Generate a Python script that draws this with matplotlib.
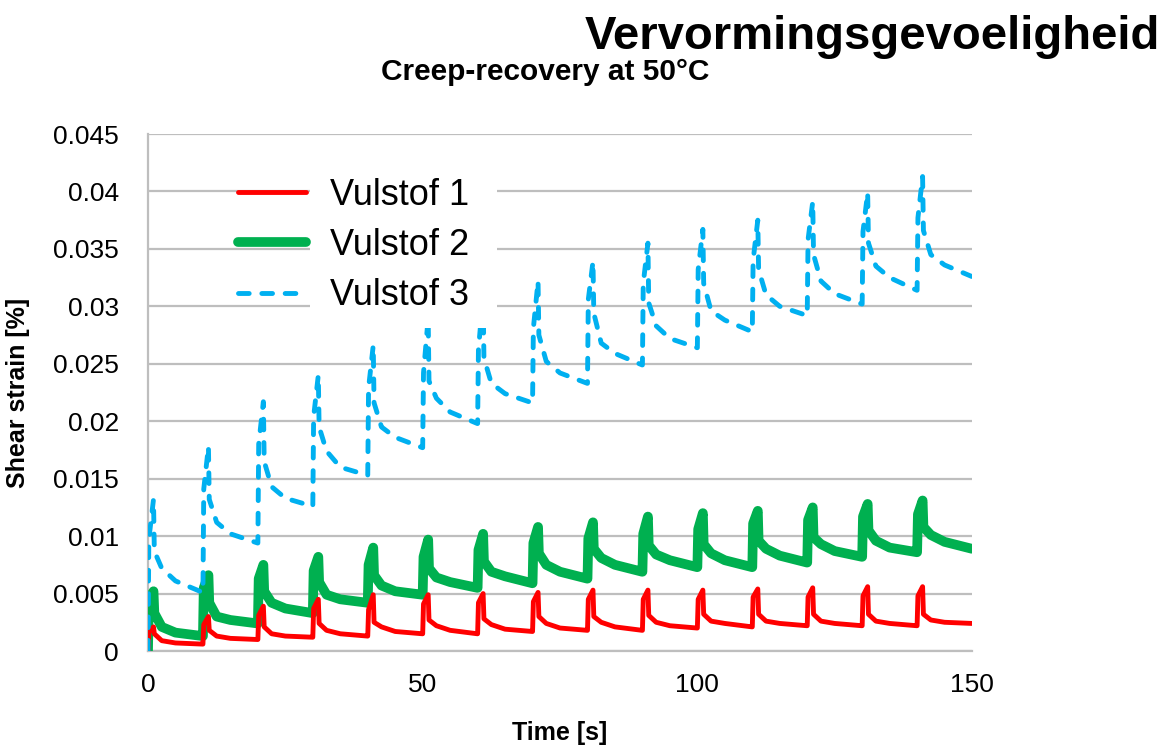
import matplotlib
matplotlib.use("Agg")
import matplotlib.pyplot as plt
from matplotlib.patches import Rectangle
import numpy as np

plt.rcParams['font.family'] = ['Liberation Sans', 'DejaVu Sans']

# cycle start times (s): 1 s creep + 9 s recovery, 15 cycles
cycle_start = [0, 10, 20, 30, 40, 50, 60, 70, 80, 90, 100, 110, 120, 130, 140]

# Vulstof 1 (red)
v1_shoulder = [0.0016, 0.0023, 0.0031, 0.0037, 0.0036, 0.0041, 0.0042, 0.0043, 0.0045, 0.0045, 0.0045, 0.0047, 0.0047, 0.0048, 0.0048]
v1_peak = [0.0021, 0.0030, 0.0039, 0.0045, 0.0049, 0.0049, 0.0050, 0.0051, 0.0053, 0.0053, 0.0053, 0.0054, 0.0055, 0.0056, 0.0056]
v1_post = [0.0015, 0.0018, 0.0021, 0.0024, 0.0025, 0.0027, 0.0028, 0.0030, 0.0030, 0.0031, 0.0032, 0.0032, 0.0032, 0.0032, 0.0032]
v1_d1 = [0.0009, 0.0013, 0.0015, 0.0018, 0.0021, 0.0022, 0.0023, 0.0024, 0.0025, 0.0025, 0.0026, 0.0026, 0.0026, 0.0026, 0.0027]
v1_d2 = [0.0007, 0.0011, 0.0013, 0.0015, 0.0017, 0.0018, 0.0019, 0.0020, 0.0021, 0.0022, 0.0024, 0.0024, 0.0024, 0.0024, 0.0025]
v1_end = [0.0006, 0.0010, 0.0012, 0.0013, 0.0015, 0.0015, 0.0017, 0.0018, 0.0018, 0.0020, 0.0021, 0.0022, 0.0022, 0.0022, 0.0024]

# Vulstof 2 (green)
v2_shoulder = [0.0045, 0.0055, 0.0063, 0.0070, 0.0075, 0.0082, 0.0088, 0.0094, 0.0098, 0.0102, 0.0106, 0.0111, 0.0114, 0.0117, 0.0119]
v2_peak = [0.0052, 0.0066, 0.0075, 0.0082, 0.0090, 0.0097, 0.0102, 0.0108, 0.0112, 0.0117, 0.0120, 0.0122, 0.0125, 0.0128, 0.0131]
v2_post = [0.0033, 0.0042, 0.0052, 0.0060, 0.0066, 0.0072, 0.0078, 0.0085, 0.0089, 0.0092, 0.0093, 0.0096, 0.0099, 0.0105, 0.0108]
v2_d1 = [0.0021, 0.0030, 0.0042, 0.0049, 0.0057, 0.0064, 0.0069, 0.0075, 0.0081, 0.0084, 0.0085, 0.0089, 0.0093, 0.0096, 0.0101]
v2_d2 = [0.0016, 0.0027, 0.0037, 0.0045, 0.0052, 0.0060, 0.0065, 0.0069, 0.0075, 0.0079, 0.0079, 0.0083, 0.0087, 0.0090, 0.0095]
v2_end = [0.0013, 0.0024, 0.0033, 0.0042, 0.0049, 0.0055, 0.0059, 0.0063, 0.0069, 0.0073, 0.0073, 0.0077, 0.0082, 0.0086, 0.0089]

# Vulstof 3 (blue, dashed)
v3_shoulder = [0.0097, 0.0141, 0.0180, 0.0204, 0.0229, 0.0242, 0.0262, 0.0281, 0.0306, 0.0320, 0.0332, 0.0340, 0.0358, 0.0365, 0.0377]
v3_peak = [0.0132, 0.0178, 0.0217, 0.0240, 0.0266, 0.0290, 0.0310, 0.0322, 0.0339, 0.0355, 0.0367, 0.0375, 0.0391, 0.0399, 0.0413]
v3_post = [0.0087, 0.0132, 0.0165, 0.0195, 0.0216, 0.0235, 0.0255, 0.0275, 0.0294, 0.0303, 0.0320, 0.0332, 0.0345, 0.0355, 0.0366]
v3_d1 = [0.0072, 0.0112, 0.0143, 0.0174, 0.0195, 0.0220, 0.0233, 0.0252, 0.0268, 0.0283, 0.0296, 0.0310, 0.0322, 0.0335, 0.0345]
v3_d2 = [0.0061, 0.0102, 0.0133, 0.0160, 0.0186, 0.0208, 0.0224, 0.0242, 0.0259, 0.0272, 0.0288, 0.0300, 0.0311, 0.0325, 0.0336]
v3_end = [0.0051, 0.0094, 0.0126, 0.0153, 0.0177, 0.0198, 0.0216, 0.0233, 0.0249, 0.0264, 0.0278, 0.0292, 0.0302, 0.0314, 0.0326]

yticks = [0, 0.005, 0.01, 0.015, 0.02, 0.025, 0.03, 0.035, 0.04, 0.045]
ytick_labels = ['0', '0.005', '0.01', '0.015', '0.02', '0.025', '0.03', '0.035', '0.04', '0.045']
xticks = [0, 50, 100, 150]

# time offsets inside a cycle for the read points
offs = [0.15, 1.0, 1.15, 2.5, 5.0, 9.95]


def build(sh, pk, po, d1, d2, en):
    t = [0.0]
    y = [0.0]
    for i, t0 in enumerate(cycle_start):
        if i > 0:
            t.append(t0)
            y.append(en[i - 1])
        for o, v in zip(offs, [sh[i], pk[i], po[i], d1[i], d2[i], en[i]]):
            t.append(t0 + o)
            y.append(v)
    return t, y


fig = plt.figure(figsize=(11.7, 7.52), dpi=100)
ax = fig.add_axes([0.1265, 0.1343, 0.7043, 0.6875])

t1, y1 = build(v1_shoulder, v1_peak, v1_post, v1_d1, v1_d2, v1_end)
t2, y2 = build(v2_shoulder, v2_peak, v2_post, v2_d1, v2_d2, v2_end)
t3, y3 = build(v3_shoulder, v3_peak, v3_post, v3_d1, v3_d2, v3_end)

l2, = ax.plot(t2, y2, color='#00B050', lw=7, solid_capstyle='round', solid_joinstyle='round', zorder=3, label='Vulstof 2')
l1, = ax.plot(t1, y1, color='#FF0000', lw=3.5, solid_capstyle='round', solid_joinstyle='round', zorder=4, label='Vulstof 1')
l3, = ax.plot(t3, y3, color='#00B0F0', lw=3.5, dashes=(2.2, 2.6), dash_capstyle='round', zorder=5, label='Vulstof 3')

ax.set_xlim(0, 150)
ax.set_ylim(0, 0.045)
ax.set_xticks(xticks)
ax.set_yticks(yticks)
ax.set_yticklabels(ytick_labels)
ax.tick_params(axis='both', length=0, labelsize=19)
ax.tick_params(axis='y', pad=21)
ax.tick_params(axis='x', pad=16)
ax.grid(axis='y', color='#BEBEBE', lw=1.6, zorder=1)
ax.set_axisbelow(True)
for s in ['top', 'right']:
    ax.spines[s].set_visible(False)
for s in ['left', 'bottom']:
    ax.spines[s].set_color('#BEBEBE')
    ax.spines[s].set_linewidth(1.6)
ax.spines['bottom'].set_zorder(0.5)

ax.set_xlabel('Time [s]', fontsize=18, fontweight='bold')
ax.xaxis.set_label_coords(0.5, -0.135)
ax.set_ylabel('Shear strain [%]', fontsize=18, fontweight='bold')
ax.yaxis.set_label_coords(-0.143, 0.5)

# white box behind the legend text (as in the original)
ax.add_patch(Rectangle((0.197, 0.625), 0.227, 0.30, transform=ax.transAxes,
                       facecolor='white', edgecolor='none', zorder=6))

leg = ax.legend(handles=[l1, l2, l3], loc='upper left', bbox_to_anchor=(0.109, 0.915),
                frameon=False, fontsize=26, handlelength=1.9, handletextpad=0.65,
                labelspacing=0.42, borderpad=0, borderaxespad=0)
leg.set_zorder(7)

fig.text(1160 / 1170, 1 - 37 / 752, 'Vervormingsgevoeligheid', ha='right', va='center',
         fontsize=34, fontweight='bold')
fig.text(545 / 1170, 1 - 72 / 752, 'Creep-recovery at 50°C', ha='center', va='center',
         fontsize=21.5, fontweight='bold')

fig.savefig('out.png', dpi=100)
